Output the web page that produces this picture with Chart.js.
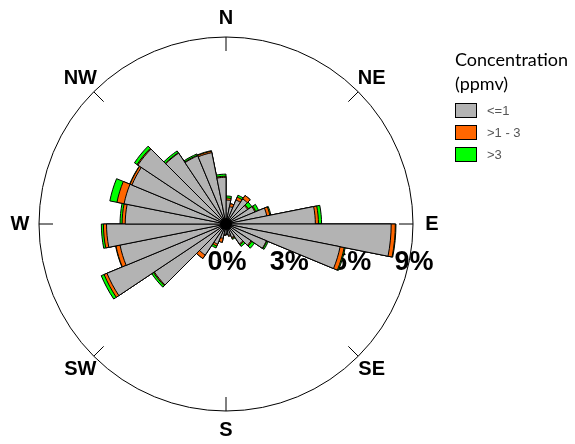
<!DOCTYPE html>
<html lang="en">

<head>
    <meta charset="UTF-8" />
    <title>Wind rose - concentration</title>
    <script src="https://cdn.jsdelivr.net/npm/chart.js"></script>
    <style>
        body { margin: 0; background: #fff; }
        canvas { display: block; }
    </style>
</head>

<body>
    <canvas id="roseChart" width="575" height="444"></canvas>

    <script>
        // 32 sectors of 11.25 deg, first one starts at north and goes clockwise
        const sectors = [
            "0", "11.25", "22.5", "33.75", "45", "56.25", "67.5", "78.75",
            "90", "101.25", "112.5", "123.75", "135", "146.25", "157.5", "168.75",
            "180", "191.25", "202.5", "213.75", "225", "236.25", "247.5", "258.75",
            "270", "281.25", "292.5", "303.75", "315", "326.25", "337.5", "348.75"
        ];

        // frequency (%) per sector for each concentration class
        const lowConc = [
            1.15, 0.85, 1.25, 1.45, 1.25, 1.5, 2.0, 4.3,
            7.95, 5.6, 2.1, 1.45, 1.15, 0.7, 0.55, 0.45,
            0.5, 0.7, 1.05, 1.8, 4.15, 6.2, 5.2, 5.75,
            4.85, 5.0, 4.9, 5.1, 4.1, 3.55, 3.5, 2.25
        ];
        const midConc = [
            0.1, 0.15, 0.15, 0.2, 0.05, 0.05, 0.15, 0.15,
            0.2, 0.2, 0.03, 0.05, 0.05, 0.05, 0.05, 0.03,
            0.05, 0.2, 0.1, 0.2, 0.05, 0.15, 0.2, 0.15,
            0.15, 0.35, 0.1, 0.05, 0.03, 0.03, 0.07, 0.05
        ];
        const highConc = [
            0.1, 0.0, 0.1, 0.0, 0.2, 0.15, 0.05, 0.15,
            0.03, 0.05, 0.07, 0.15, 0.1, 0.05, 0.0, 0.02,
            0.0, 0.0, 0.1, 0.0, 0.1, 0.15, 0.02, 0.1,
            0.1, 0.35, 0.02, 0.15, 0.1, 0.07, 0.03, 0.1
        ];

        const seriesNames = ["<=1", ">1 - 3", ">3"];
        const seriesColors = ["#b3b3b3", "#ff6600", "#00ff00"];
        const legendTitle = ["Concentration", "(ppmv)"];

        const compassNames = ["N", "NE", "E", "SE", "S", "SW", "W", "NW"];
        const compassAngles = [0, 45, 90, 135, 180, 225, 270, 315];
        const percentTicks = [0, 3, 6, 9];

        // stacked look: draw cumulative totals, the first dataset ends up on top
        const cumMid = lowConc.map((v, i) => v + midConc[i]);
        const cumHigh = cumMid.map((v, i) => v + highConc[i]);

        // percent labels go under the circle and the bars
        const percentLabels = {
            id: "percentLabels",
            beforeDraw(chart) {
                const r = chart.scales.r;
                const ctx = chart.ctx;
                ctx.save();
                ctx.font = 'bold 27px "Liberation Sans", Arial, sans-serif';
                ctx.fillStyle = "#000";
                ctx.textAlign = "center";
                ctx.textBaseline = "middle";
                percentTicks.forEach(v => {
                    ctx.fillText(v + "%", r.xCenter + r.getDistanceFromCenterForValue(v) + 1, r.yCenter + 39);
                });
                ctx.restore();
            }
        };

        // compass ticks, compass labels and the legend
        const compassAndLegend = {
            id: "compassAndLegend",
            afterDraw(chart) {
                const r = chart.scales.r;
                const ctx = chart.ctx;
                const cx = r.xCenter, cy = r.yCenter, R = r.drawingArea;
                ctx.save();
                ctx.strokeStyle = "#000";
                ctx.lineWidth = 1;
                ctx.fillStyle = "#000";
                ctx.font = 'bold 20px "Liberation Sans", Arial, sans-serif';
                ctx.textAlign = "center";
                ctx.textBaseline = "middle";
                compassNames.forEach((name, i) => {
                    const a = compassAngles[i] * Math.PI / 180;
                    const sx = Math.sin(a), sy = -Math.cos(a);
                    ctx.beginPath();
                    ctx.moveTo(cx + sx * (R - 14), cy + sy * (R - 14));
                    ctx.lineTo(cx + sx * R, cy + sy * R);
                    ctx.stroke();
                    ctx.fillText(name, cx + sx * (R + 19), cy + sy * (R + 19));
                });

                // centre hub where the sector borders meet
                ctx.beginPath();
                ctx.arc(cx, cy, 6, 0, Math.PI * 2);
                ctx.fill();

                // legend
                const lx = 455;
                ctx.textAlign = "left";
                ctx.textBaseline = "alphabetic";
                ctx.font = '18px Lato, "Liberation Sans", sans-serif';
                ctx.fillStyle = "#000";
                legendTitle.forEach((t, i) => ctx.fillText(t, lx, 66 + i * 24));

                ctx.font = '13px "Liberation Sans", Arial, sans-serif';
                ctx.textBaseline = "middle";
                seriesNames.forEach((name, i) => {
                    const y = 103 + i * 22;
                    ctx.fillStyle = seriesColors[i];
                    ctx.fillRect(lx, y, 21, 14);
                    ctx.strokeStyle = "#000";
                    ctx.strokeRect(lx + 0.5, y + 0.5, 21, 14);
                    ctx.fillStyle = "#555";
                    ctx.fillText(name, lx + 32, y + 8);
                });
                ctx.restore();
            }
        };

        new Chart(document.getElementById("roseChart"), {
            type: "polarArea",
            data: {
                labels: sectors,
                datasets: [
                    { label: seriesNames[0], data: lowConc, backgroundColor: seriesColors[0] },
                    { label: seriesNames[1], data: cumMid, backgroundColor: seriesColors[1] },
                    { label: seriesNames[2], data: cumHigh, backgroundColor: seriesColors[2] }
                ]
            },
            options: {
                responsive: false,
                animation: false,
                layout: { padding: { left: 39, right: 162, top: 37, bottom: 33 } },
                elements: {
                    arc: { borderColor: "#000", borderWidth: 1 }
                },
                scales: {
                    r: {
                        min: 0,
                        max: 9,
                        startAngle: 0,
                        ticks: { display: false, stepSize: 3 },
                        grid: {
                            circular: true,
                            lineWidth: 1,
                            color: c => (c.tick && c.tick.value === 9 ? "#000" : "rgba(0,0,0,0)")
                        },
                        angleLines: { display: false },
                        pointLabels: { display: false }
                    }
                },
                plugins: {
                    legend: { display: false },
                    tooltip: { enabled: false }
                }
            },
            plugins: [percentLabels, compassAndLegend]
        });
    </script>
</body>

</html>
